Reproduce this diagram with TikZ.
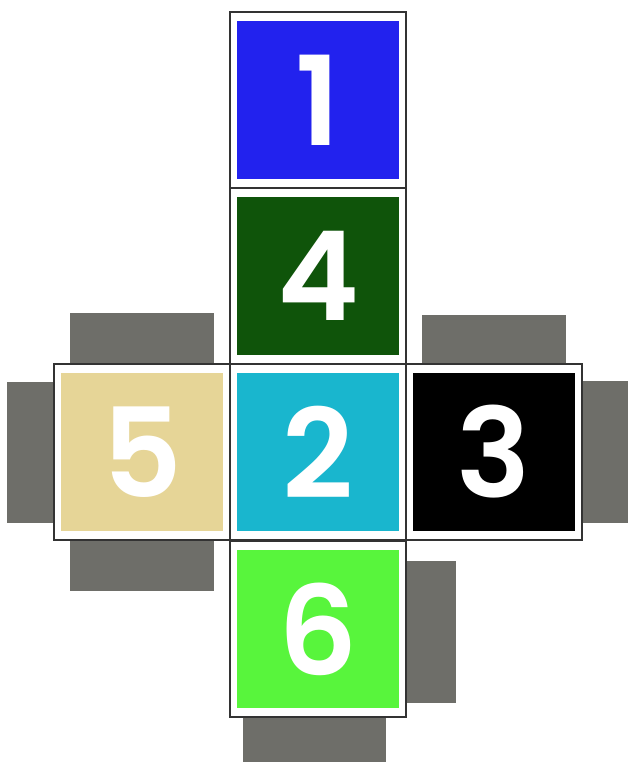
\documentclass[tikz,border=0pt]{standalone}
\usepackage{fontspec}
\setmainfont{Poppins}[BoldFont={Poppins SemiBold}]
\usepackage{tikz}
\usetikzlibrary{positioning}

\definecolor{faceblue}{RGB}{34,34,238}
\definecolor{facegreen}{RGB}{15,84,10}
\definecolor{facecyan}{RGB}{25,182,206}
\definecolor{facetan}{RGB}{230,213,151}
\definecolor{facelime}{RGB}{88,245,60}
\definecolor{tabgray}{RGB}{110,110,105}

\tikzset{
  face/.style={draw=black!80, line width=1.3pt, fill=white,
    minimum width=176pt, minimum height=176pt, inner sep=0pt},
  facefill/.style={minimum width=162pt, minimum height=158pt, inner sep=0pt,
    text=white, font=\fontsize{124}{124}\selectfont\bfseries},
  tab/.style={fill=tabgray, inner sep=0pt},
}

\begin{document}
\begin{tikzpicture}[x=1pt,y=-1pt]

    \useasboundingbox (0,0) rectangle (628,762);

    % Faces of the net
    \foreach \n/\px/\py/\col in {1/318/100/faceblue, 4/318/276/facegreen,
        2/318/452/facecyan, 5/142/452/facetan, 3/494/452/black, 6/318/629/facelime} {
        \node[face] (f\n) at (\px,\py) {};
        \node[facefill, fill=\col] (c\n) at (f\n) {\n};
    }

    % Glue tabs
    \node[tab, minimum width=144pt, minimum height=50pt, anchor=south] (t5a) at (f5.north) {};
    \node[tab, minimum width=46pt, minimum height=141pt, anchor=east] (t5b) at (f5.west) {};
    \node[tab, minimum width=144pt, minimum height=50pt, anchor=north] (t5c) at (f5.south) {};
    \node[tab, minimum width=144pt, minimum height=48pt, anchor=south] (t3a) at (f3.north) {};
    \node[tab, minimum width=46pt, minimum height=142pt, anchor=west] (t3b) at (f3.east) {};
    \node[tab, minimum width=49pt, minimum height=142pt, anchor=west] (t6a) at ([yshift=-3pt]f6.east) {};
    \node[tab, minimum width=143pt, minimum height=48pt, anchor=north] (t6b) at ([xshift=-4pt]f6.south) {};

\end{tikzpicture}
\end{document}
